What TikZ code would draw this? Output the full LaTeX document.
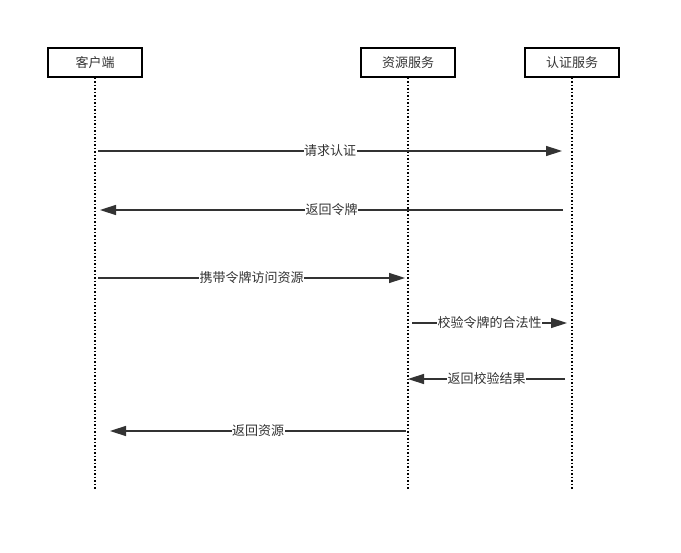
\documentclass[tikz,border=0pt]{standalone}
\usepackage{fontspec}
\setmainfont{Noto Sans CJK SC}
\usetikzlibrary{arrows.meta}
\definecolor{ink}{HTML}{333333}
\tikzset{
  actor/.style={draw=black, line width=1.5pt, minimum width=94pt, minimum height=29pt, inner sep=0pt, font=\fontsize{13}{15}\selectfont, text=ink},
  life/.style={draw=black, line width=1.5pt, dash pattern=on 1.5pt off 2pt},
  msg/.style={draw=ink, line width=1.5pt, -{Triangle[length=16pt,width=10pt]}},
  lbl/.style={fill=white, inner sep=0.5pt, font=\fontsize{13}{15}\selectfont, text=ink}
}
\begin{document}
\begin{tikzpicture}[x=1pt,y=-1pt]
\useasboundingbox (0,0) rectangle (681,553);
\node[actor] (a) at (95,62.5) {客户端};
\node[actor] (b) at (408,62.5) {资源服务};
\node[actor] (c) at (572,62.5) {认证服务};
\coordinate (ae) at (95,490);
\coordinate (be) at (408,490);
\coordinate (ce) at (572,490);
\draw[life] (a.south) -- (ae);
\draw[life] (b.south) -- (be);
\draw[life] (c.south) -- (ce);
% message endpoints
\coordinate (m1s) at (98,151);  \coordinate (m1e) at (562,151);
\coordinate (m2s) at (563,210); \coordinate (m2e) at (100,210);
\coordinate (m3s) at (98,278);  \coordinate (m3e) at (405,278);
\coordinate (m4s) at (412,323); \coordinate (m4e) at (567,323);
\coordinate (m5s) at (565,379); \coordinate (m5e) at (408,379);
\coordinate (m6s) at (406,431); \coordinate (m6e) at (110,431);
\draw[msg] (m1s) -- node[lbl] {请求认证} (m1e);
\draw[msg] (m2s) -- node[lbl] {返回令牌} (m2e);
\draw[msg] (m3s) -- node[lbl] {携带令牌访问资源} (m3e);
\draw[msg] (m4s) -- node[lbl] {校验令牌的合法性} (m4e);
\draw[msg] (m5s) -- node[lbl] {返回校验结果} (m5e);
\draw[msg] (m6s) -- node[lbl] {返回资源} (m6e);
\end{tikzpicture}
\end{document}
